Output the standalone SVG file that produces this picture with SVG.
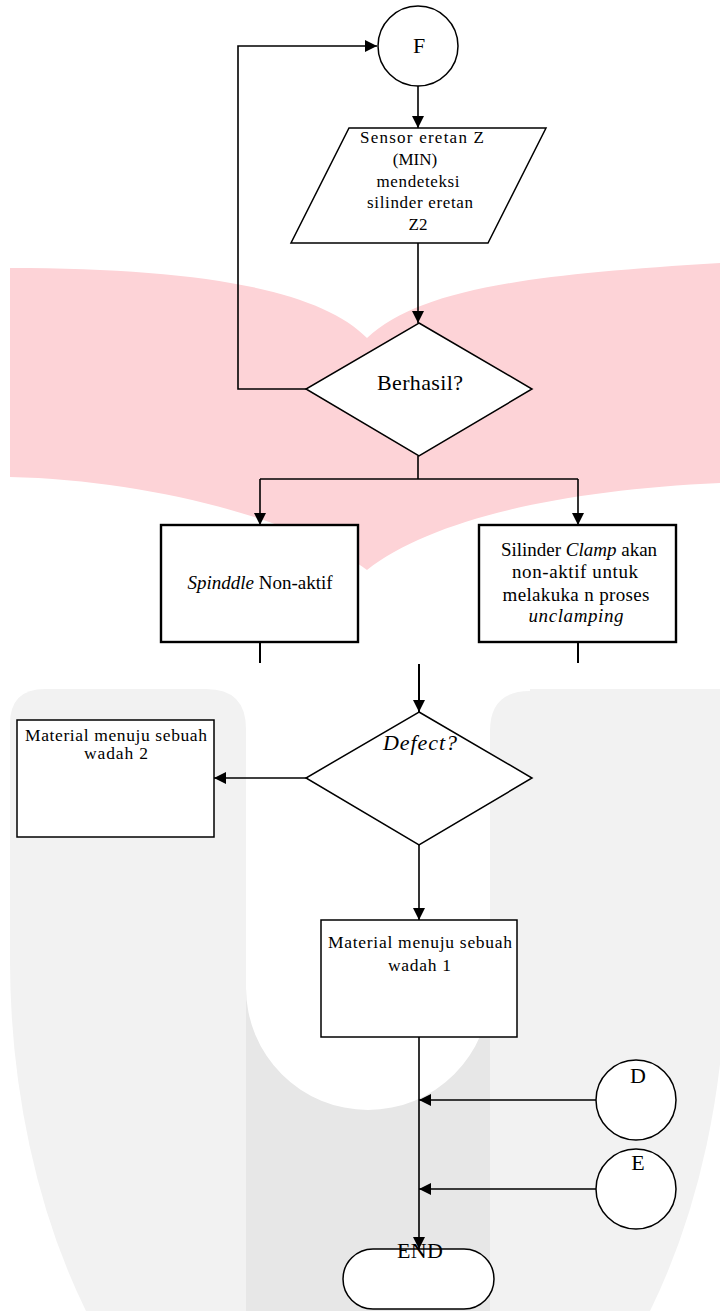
<svg xmlns="http://www.w3.org/2000/svg" width="720" height="1311" viewBox="0 0 720 1311">
<style>
.bg{fill:#ffffff}
.wm-red{fill:#fdd3d7}
.wm-light{fill:#f2f2f2}
.wm-dark{fill:#e7e7e7}
.shape{fill:#ffffff;stroke:#000000;stroke-width:1.5}
.thick{fill:#ffffff;stroke:#000000;stroke-width:2.4}
.conn{fill:none;stroke:#000000;stroke-width:1.6}
.stub{fill:none;stroke:#000000;stroke-width:2}
text{font-family:"Liberation Serif","Times New Roman",serif;fill:#000000}
.t17{font-size:17px}
.t175{font-size:17.5px}
.t19{font-size:19px}
.t22{font-size:22px}
.it{font-style:italic}
</style>
<defs>
<marker id="arr" markerUnits="userSpaceOnUse" markerWidth="12" markerHeight="12" refX="12" refY="6" orient="auto">
<path d="M0,0 L12,6 L0,12 Z" fill="#000000"/>
</marker>
</defs>
<rect class="bg" x="0" y="0" width="720" height="1311"/>
<g id="watermark">
<path class="wm-red" d="M10 268 C200 268 320 290 367 338 C420 290 520 275 720 263 L720 483 C560 490 430 520 367 570 C300 520 150 480 10 477 Z"/>
<path class="wm-light" d="M10 724 Q10 689 45 689 L726 689 L726 960 A358 570 0 0 1 650 1311 L86 1311 A358 570 0 0 1 10 960 Z"/>
<rect class="wm-dark" x="246" y="900" width="244" height="411"/>
<path class="bg" d="M206 680 L206 689 Q246 689 246 729 L246 988 A122 122 0 0 0 490 988 L490 731 Q490 691 530 691 L530 680 Z"/>
</g>
<g id="connectors">
<polyline class="conn" points="306,389 238,389 238,46 377,46" marker-end="url(#arr)"/>
<line class="conn" x1="418" y1="86" x2="418" y2="128" marker-end="url(#arr)"/>
<line class="conn" x1="418" y1="243" x2="418" y2="323" marker-end="url(#arr)"/>
<line class="conn" x1="418" y1="456" x2="418" y2="479"/>
<line class="conn" x1="260" y1="479" x2="578" y2="479"/>
<line class="conn" x1="260" y1="479" x2="260" y2="525" marker-end="url(#arr)"/>
<line class="conn" x1="578" y1="479" x2="578" y2="525" marker-end="url(#arr)"/>
<line class="stub" x1="260" y1="642" x2="260" y2="663"/>
<line class="stub" x1="578" y1="642" x2="578" y2="663"/>
<line class="stub" x1="419" y1="664" x2="419" y2="712" marker-end="url(#arr)"/>
<line class="conn" x1="306" y1="778" x2="214" y2="778" marker-end="url(#arr)"/>
<line class="conn" x1="419" y1="845" x2="419" y2="920" marker-end="url(#arr)"/>
<line class="conn" x1="419" y1="1037" x2="419" y2="1249" marker-end="url(#arr)"/>
<line class="conn" x1="596" y1="1100" x2="419" y2="1100" marker-end="url(#arr)"/>
<line class="conn" x1="596" y1="1189" x2="419" y2="1189" marker-end="url(#arr)"/>
</g>
<g id="node-F">
<circle class="shape" cx="418" cy="46" r="40"/>
<text class="t22" x="419" y="53" text-anchor="middle">F</text>
</g>
<g id="node-sensor">
<polygon class="shape" points="349,128 546,128 488,243 291,243"/>
<text class="t17" x="422" y="143" text-anchor="middle" textLength="124" lengthAdjust="spacing">Sensor eretan Z</text>
<text class="t17" x="415" y="165" text-anchor="middle">(MIN)</text>
<text class="t17" x="418" y="187" text-anchor="middle" textLength="83" lengthAdjust="spacing">mendeteksi</text>
<text class="t17" x="420" y="208" text-anchor="middle" textLength="106" lengthAdjust="spacing">silinder eretan</text>
<text class="t17" x="418" y="230" text-anchor="middle">Z2</text>
</g>
<g id="node-berhasil">
<polygon class="shape" points="419,323 532,389 419,456 306,389"/>
<text class="t22" x="420" y="390" text-anchor="middle" textLength="86" lengthAdjust="spacing">Berhasil?</text>
</g>
<g id="node-spindle">
<rect class="thick" x="161" y="525" width="197" height="117"/>
<text class="t19" x="260" y="589" text-anchor="middle"><tspan class="it">Spinddle</tspan> Non-aktif</text>
</g>
<g id="node-clamp">
<rect class="thick" x="479" y="525" width="197" height="117"/>
<text class="t19" x="579" y="556" text-anchor="middle">Silinder <tspan class="it">Clamp</tspan> akan</text>
<text class="t19" x="575" y="578" text-anchor="middle" textLength="126" lengthAdjust="spacing">non-aktif untuk</text>
<text class="t19" x="576" y="601" text-anchor="middle" textLength="147" lengthAdjust="spacing">melakuka n proses</text>
<text class="t19 it" x="576" y="622" text-anchor="middle" textLength="95" lengthAdjust="spacing">unclamping</text>
</g>
<g id="node-defect">
<polygon class="shape" points="419,712 532,778 419,845 306,778"/>
<text class="t22 it" x="420" y="750" text-anchor="middle" textLength="74" lengthAdjust="spacing">Defect?</text>
</g>
<g id="node-wadah2">
<rect class="shape" x="17" y="720" width="197" height="117"/>
<text class="t175" x="116" y="741" text-anchor="middle" textLength="182" lengthAdjust="spacing">Material menuju sebuah</text>
<text class="t175" x="116" y="759" text-anchor="middle" textLength="64" lengthAdjust="spacing">wadah 2</text>
</g>
<g id="node-wadah1">
<rect class="shape" x="321" y="920" width="196" height="117"/>
<text class="t175" x="420" y="948" text-anchor="middle" textLength="184" lengthAdjust="spacing">Material menuju sebuah</text>
<text class="t175" x="419.5" y="971" text-anchor="middle" textLength="63" lengthAdjust="spacing">wadah 1</text>
</g>
<g id="node-D">
<circle class="shape" cx="636" cy="1100" r="40"/>
<text class="t22" x="638" y="1083" text-anchor="middle">D</text>
</g>
<g id="node-E">
<circle class="shape" cx="636" cy="1189" r="40"/>
<text class="t22" x="638" y="1170" text-anchor="middle">E</text>
</g>
<g id="node-end">
<rect class="shape" x="343" y="1249" width="151" height="60" rx="30" ry="30"/>
<text class="t22" x="420" y="1258" text-anchor="middle" textLength="46" lengthAdjust="spacing">END</text>
</g>
</svg>
